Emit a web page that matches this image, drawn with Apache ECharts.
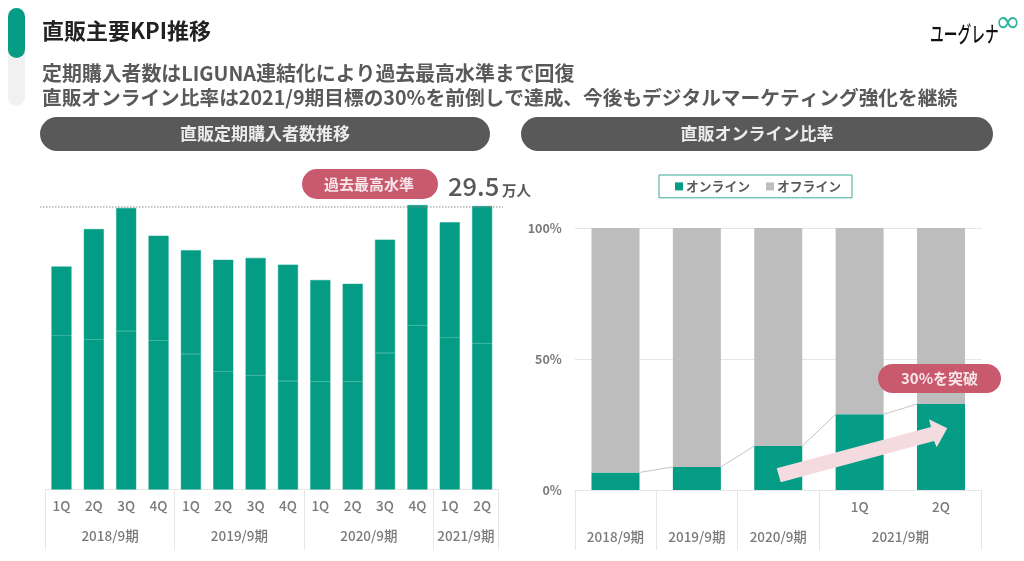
<!DOCTYPE html>
<html><head><meta charset="utf-8">
<style>html,body{margin:0;padding:0;background:#fff}#c{width:1024px;height:561px}</style>
<script src="https://cdn.jsdelivr.net/npm/echarts@6/dist/echarts.min.js"></script>
</head><body><div id="c"></div>
<script>
const quarters = ['1Q','2Q','3Q','4Q','1Q','2Q','3Q','4Q','1Q','2Q','3Q','4Q','1Q','2Q'];
const subscriberLower = [16.0,15.6,16.5,15.5,14.1,12.3,11.9,11.3,11.2,11.2,14.2,17.1,15.8,15.2];
const subscriberUpper = [7.2,11.5,12.8,10.9,10.8,11.6,12.2,12.1,10.6,10.2,11.8,12.5,12.0,14.3];
const leftYears = ['2018/9期','2019/9期','2020/9期','2021/9期'];
const leftYearEdges = [0,4,8,12,14];
const leftYearCenters = [2,6,10,13];
const rightCategories = ['','','','1Q','2Q'];
const rightYears = ['2018/9期','2019/9期','2020/9期','2021/9期'];
const rightYearEdges = [0,1,2,3,5];
const rightYearCenters = [0.5,1.5,2.5,4];
const online = [6.7,8.8,16.8,28.9,32.8];
const offline = [93.3,91.2,83.2,71.1,67.2];

const FONT = '"Noto Sans CJK JP","Noto Sans",sans-serif';
const TEAL = '#049c84', GREY = '#bdbdbd', DARK = '#595959', RED = '#c9596c', LINE = '#e6e6e6', TXT = '#7a7a7a';

function yearAxis(gridIndex, max, edges, centers, names) {
  return {
    type: 'value', gridIndex, position: 'bottom', min: 0, max,
    axisLine: {show: false}, splitLine: {show: false},
    axisTick: {show: true, customValues: edges, length: 60, lineStyle: {color: LINE, width: 1}},
    axisLabel: {show: true, customValues: centers, margin: 40, color: TXT, fontFamily: FONT, fontSize: 13.5, fontWeight: 500,
      formatter: v => names[centers.indexOf(v)] || ''}
  };
}
function text(x, y, s, size, color, weight, align) {
  return {type: 'text', z: 120, x, y, style: {text: s, fontFamily: FONT, fontSize: size, fill: color, fontWeight: weight || 'bold',
    align: align || 'left', verticalAlign: 'middle'}};
}
function pill(x, y, w, h, color, z) {
  return {type: 'rect', z: z || 110, shape: {x, y, width: w, height: h, r: h / 2}, style: {fill: color}};
}

const chart = echarts.init(document.getElementById('c'), null, {renderer: 'canvas'});
chart.setOption({
  animation: false,
  backgroundColor: '#fff',
  textStyle: {fontFamily: FONT},
  legend: {
    left: 659, top: 175, padding: [5, 11, 5, 16], itemGap: 16, itemWidth: 8, itemHeight: 8,
    borderColor: '#3aa896', borderWidth: 1,
    data: ['オンライン', 'オフライン'],
    icon: 'rect',
    textStyle: {color: DARK, fontSize: 12.8, fontWeight: 'bold', fontFamily: FONT, padding: [0, 0, 0, -2]}
  },
  grid: [
    {left: 45.3, right: 1024 - 498.3, top: 201.2, bottom: 71.5},
    {left: 574.8, right: 1024 - 981.7, top: 228, bottom: 71}
  ],
  xAxis: [
    {type: 'category', gridIndex: 0, data: quarters, axisTick: {show: false},
      axisLine: {lineStyle: {color: LINE}},
      axisLabel: {color: TXT, fontFamily: FONT, fontSize: 13.5, fontWeight: 500, margin: 10, interval: 0}},
    yearAxis(0, 14, leftYearEdges, leftYearCenters, leftYears),
    {type: 'category', gridIndex: 1, data: rightCategories, axisTick: {show: false},
      axisLine: {lineStyle: {color: LINE}},
      axisLabel: {color: TXT, fontFamily: FONT, fontSize: 13.5, fontWeight: 500, margin: 10, interval: 0}},
    yearAxis(1, 5, rightYearEdges, rightYearCenters, rightYears)
  ],
  yAxis: [
    {type: 'value', gridIndex: 0, min: 0, max: 30, show: false, splitLine: {show: false}},
    {type: 'value', gridIndex: 1, min: 0, max: 100, interval: 50,
      axisLine: {show: false}, axisTick: {show: false},
      splitLine: {lineStyle: {color: LINE}},
      axisLabel: {formatter: '{value}%', color: TXT, fontFamily: FONT, fontSize: 12.5, fontWeight: 'bold', margin: 13}}
  ],
  series: [
    {name: '定期購入者数A', type: 'bar', stack: 'l', xAxisIndex: 0, yAxisIndex: 0, data: subscriberLower, barWidth: '62%',
      itemStyle: {color: TEAL, borderColor: '#0fa28b', borderWidth: 0.5}},
    {name: '定期購入者数B', type: 'bar', stack: 'l', xAxisIndex: 0, yAxisIndex: 0, data: subscriberUpper, barWidth: '62%',
      itemStyle: {color: TEAL, borderColor: '#0fa28b', borderWidth: 0.5}},
    {name: 'オンライン', type: 'bar', stack: 'r', xAxisIndex: 2, yAxisIndex: 1, data: online, barWidth: '59%',
      itemStyle: {color: TEAL}},
    {name: 'オフライン', type: 'bar', stack: 'r', xAxisIndex: 2, yAxisIndex: 1, data: offline, barWidth: '59%',
      itemStyle: {color: GREY}},
    {name: '系列線', type: 'custom', xAxisIndex: 2, yAxisIndex: 1, silent: true, z: 5,
      data: online.slice(0, -1).map((v, i) => [i, v, online[i + 1]]),
      encode: {x: 0, y: 1},
      renderItem: function (params, api) {
        const a = api.coord([api.value(0), api.value(1)]);
        const b = api.coord([api.value(0) + 1, api.value(2)]);
        const half = api.size([1, 0])[0] * 0.295;
        return {type: 'line', shape: {x1: a[0] + half, y1: a[1], x2: b[0] - half, y2: b[1]},
          style: {stroke: '#c4c4c4', lineWidth: 1}};
      }}
  ],
  graphic: {elements: [
    {type: 'rect', z: 100, shape: {x: 8, y: 8, width: 17, height: 98, r: 8.5}, style: {fill: '#f1f1f1'}},
    pill(8, 8, 17, 50, TEAL),
    text(42, 31, '直販主要KPI推移', 22, '#222222'),
    text(42, 73, '定期購入者数はLIGUNA連結化により過去最高水準まで回復', 19.9, DARK),
    text(42, 98, '直販オンライン比率は2021/9期目標の30%を前倒しで達成、今後もデジタルマーケティング強化を継続', 19.7, DARK),
    pill(40, 117, 450, 34, DARK),
    text(265, 134, '直販定期購入者数推移', 17, '#ececec', 'bold', 'center'),
    pill(521, 117, 472, 34, DARK),
    text(757, 134, '直販オンライン比率', 17, '#ececec', 'bold', 'center'),
    pill(302, 169, 136, 30, RED),
    text(369, 184, '過去最高水準', 15, '#f6e6e9', 'bold', 'center'),
    text(448, 186, '29.5', 25.5, DARK, 500),
    text(502, 190, '万人', 14.5, DARK, 'bold'),
    {type: 'line', z: 105, shape: {x1: 40, y1: 207, x2: 503, y2: 207}, style: {stroke: '#8a8a8a', lineWidth: 1, lineDash: [1.5, 1.5]}},
    {type: 'polygon', z: 110, shape: {points: [[776.7,468.3],[780.7,482.3],[934,441],[936.7,447.3],[947.3,428.3],[929,419.3],[931,427]]}, style: {fill: '#f3dbe0'}},
    pill(878, 364, 123, 29, RED),
    text(939.5, 378.5, '30%を突破', 15, '#f6e6e9', 'bold', 'center'),
    {type: 'text', z: 120, x: 930, y: 34, scaleY: 1.55, scaleX: 0.98, style: {text: 'ユーグレナ', fontFamily: FONT, fontSize: 14, fontWeight: 500, fill: '#111', verticalAlign: 'middle'}},
    {type: 'text', z: 120, x: 1008, y: 24, style: {text: '∞', fontFamily: '"DejaVu Sans"', fontSize: 31, fontWeight: 'normal', fill: '#2fb39d', align: 'center', verticalAlign: 'middle'}}
  ]}
});
</script></body></html>
